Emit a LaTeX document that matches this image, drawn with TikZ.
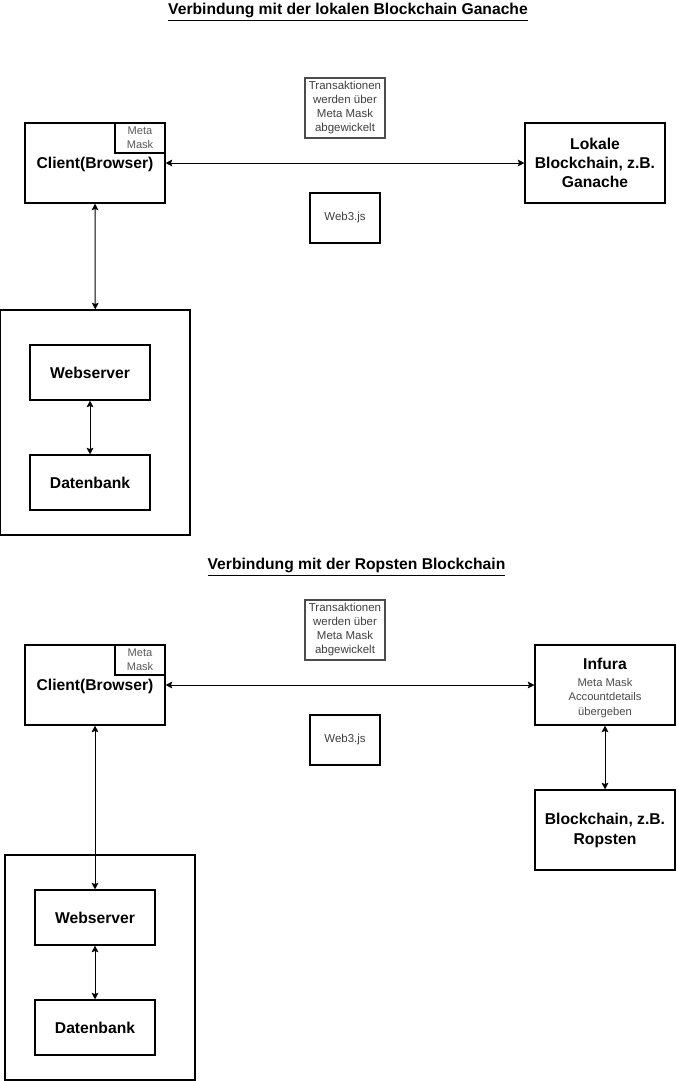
\documentclass[tikz,border=0pt]{standalone}
\usepackage{fontspec}
\setmainfont{Liberation Sans}
\usetikzlibrary{arrows.meta}
\begin{document}
\begin{tikzpicture}[x=0.75pt,y=-0.75pt,
  box/.style={draw=black,line width=0.8pt,inner sep=0pt,align=center},
  bigtxt/.style={font=\fontsize{11.75}{14}\selectfont\bfseries},
  smalltxt/.style={font=\fontsize{8.6}{10.5}\selectfont,text=black!75},
  mmtxt/.style={font=\fontsize{8.3}{10.2}\selectfont,text=black!65},
  conn/.style={line width=0.75pt,{Stealth[length=5pt,width=5pt,inset=0.9pt]}-{Stealth[length=5pt,width=5pt,inset=0.9pt]}},
  ttl/.style={font=\fontsize{11.75}{14}\selectfont\bfseries,inner sep=0pt}]
\useasboundingbox[fill=white] (0,0) rectangle (676,1081);

% ---------- top section ----------
\node[ttl] (title1) at (348,12) {\underline{Verbindung mit der lokalen Blockchain Ganache}};

\node[box,minimum width=105pt,minimum height=60pt,bigtxt,text depth=0pt] (client1) at (95,163) {Client(Browser)};
\node[box,minimum width=37.5pt,minimum height=22.5pt,mmtxt] (mm1) at (140,138) {Meta\\Mask};
\node[box,minimum width=105pt,minimum height=60pt,font=\fontsize{11.75}{14.3}\selectfont\bfseries] (lokal) at (595,163) {Lokale\\Blockchain, z.B.\\Ganache};
\node[box,minimum width=60pt,minimum height=45pt,smalltxt,draw=black!70] (trans1) at (345,108) {Transaktionen\\werden über\\Meta Mask\\abgewickelt};
\node[box,minimum width=52.5pt,minimum height=37.5pt,smalltxt] (web3a) at (345,218) {Web3.js};
\node[box,minimum width=142.125pt,minimum height=168.75pt] (outer1) at (95.25,422.5) {};
\node[box,minimum width=90pt,minimum height=41.25pt,bigtxt] (ws1) at (90,372.5) {Webserver};
\node[box,minimum width=90pt,minimum height=41.25pt,bigtxt] (db1) at (90,482.5) {Datenbank};

\draw[conn] (client1.east) -- (lokal.west);
\draw[conn] (client1.south) -- (outer1.north);
\draw[conn] (ws1.south) -- (db1.north);

% ---------- bottom section ----------
\node[ttl] (title2) at (356.5,567) {\underline{Verbindung mit der Ropsten Blockchain}};

\node[box,minimum width=105pt,minimum height=60pt,bigtxt,text depth=0pt] (client2) at (95,685) {Client(Browser)};
\node[box,minimum width=37.5pt,minimum height=22.5pt,mmtxt] (mm2) at (140,660) {Meta\\Mask};
\node[box,minimum width=60pt,minimum height=45pt,smalltxt,draw=black!70] (trans2) at (345,630) {Transaktionen\\werden über\\Meta Mask\\abgewickelt};
\node[box,minimum width=52.5pt,minimum height=37.5pt,smalltxt] (web3b) at (345,740) {Web3.js};
\node[box,minimum width=105pt,minimum height=60pt,inner ysep=0pt,font=\fontsize{11.75}{13}\selectfont\bfseries] (infura) at (605,685) {\rule{0pt}{13pt}Infura\\[-0.5pt]\fontsize{8.4}{10.5}\selectfont\mdseries\color{black!70}Meta Mask\\[-2.3pt]\fontsize{8.4}{10.5}\selectfont\mdseries\color{black!70}Accountdetails\\[-2.3pt]\fontsize{8.4}{10.5}\selectfont\mdseries\color{black!70}übergeben};
\node[box,minimum width=105pt,minimum height=60pt,font=\fontsize{11.75}{15}\selectfont\bfseries] (ropsten) at (605,830) {Blockchain, z.B.\\Ropsten};
\node[box,minimum width=142.5pt,minimum height=168.75pt] (outer2) at (100,967.5) {};
\node[box,minimum width=90pt,minimum height=41.25pt,bigtxt] (ws2) at (95,917.5) {Webserver};
\node[box,minimum width=90pt,minimum height=41.25pt,bigtxt] (db2) at (95,1027.5) {Datenbank};

\draw[conn] (client2.east) -- (infura.west);
\draw[conn] (infura.south) -- (ropsten.north);
\draw[conn] (client2.south) -- (ws2.north);
\draw[conn] (ws2.south) -- (db2.north);
\end{tikzpicture}
\end{document}
